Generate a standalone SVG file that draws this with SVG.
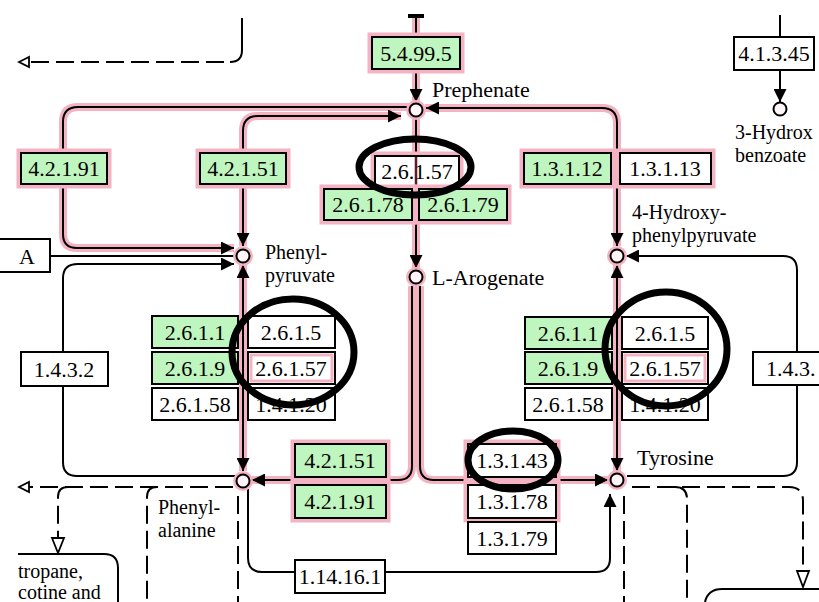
<svg xmlns="http://www.w3.org/2000/svg" width="819" height="602" viewBox="0 0 819 602" font-family="'Liberation Serif', 'DejaVu Serif', 'Times New Roman', serif">
<defs>
<style>
.hl{fill:none;stroke:#f4b3c2;stroke-width:8;stroke-linejoin:round}
.ln{fill:none;stroke:#000;stroke-width:2}
.ds{fill:none;stroke:#000;stroke-width:2;stroke-dasharray:18 7}
.oa{fill:#fff;stroke:#000;stroke-width:1.8}
.halo{fill:none;stroke:#f4b3c2;stroke-width:9}
.g{fill:#bff5bf;stroke:#000;stroke-width:2}
.w{fill:#fff;stroke:#000;stroke-width:2}
.inner{fill:none;stroke:#f4b3c2;stroke-width:3}
.t{font-family:'Liberation Serif','DejaVu Serif','Times New Roman',serif;font-size:22px;fill:#000}
.s{font-size:20px}
.c{text-anchor:middle}
.ring{fill:none;stroke:#000;stroke-width:7}
.cph{fill:#f4b3c2}
.cp{fill:#fff4f7;stroke:#000;stroke-width:2}
</style>
<marker id="arr" viewBox="0 0 10 10" refX="10" refY="5" markerUnits="userSpaceOnUse" markerWidth="13" markerHeight="13" orient="auto-start-reverse">
<path d="M0,0 L10,5 L0,10 z" fill="#000"/>
</marker>
</defs>
<rect width="819" height="602" fill="#fff"/>

<g id="connectors">
<path class="hl" d="M416,15 V102"/>
<path class="hl" d="M409,107 H78 Q63,107 63,122 V234 Q63,248 77,248 H234"/>
<path class="hl" d="M401,116 H258 Q243,116 243,131 V246"/>
<path class="hl" d="M425,108 H602 Q617,108 617,123 V246"/>
<path class="hl" d="M416,118 V268"/>
<path class="hl" d="M243,265 V471"/>
<path class="hl" d="M617,265 V471"/>
<path class="hl" d="M412,286 V466 Q412,480 398,480 H252"/>
<path class="hl" d="M420,286 V466 Q420,480 434,480 H608"/>
<path class="ln" d="M416,15 V102" marker-end="url(#arr)"/>
<line x1="408" y1="16" x2="424" y2="16" stroke="#000" stroke-width="4"/>
<path class="ln" d="M409,107 H78 Q63,107 63,122 V234 Q63,248 77,248 H234" marker-end="url(#arr)"/>
<path class="ln" d="M401,116 H258 Q243,116 243,131 V246" marker-start="url(#arr)" marker-end="url(#arr)"/>
<path class="ln" d="M426,108 H602 Q617,108 617,123 V246" marker-start="url(#arr)" marker-end="url(#arr)"/>
<path class="ln" d="M416,118 V268" marker-end="url(#arr)"/>
<path class="ln" d="M243,265 V471" marker-start="url(#arr)" marker-end="url(#arr)"/>
<path class="ln" d="M617,265 V471" marker-start="url(#arr)" marker-end="url(#arr)"/>
<path class="ln" d="M412,286 V466 Q412,480 398,480 H252" marker-end="url(#arr)"/>
<path class="ln" d="M420,286 V466 Q420,480 434,480 H608" marker-end="url(#arr)"/>
<path class="ln" d="M50,256 H236"/>
<path class="ln" d="M234,264 H78 Q63,264 63,278 V462 Q63,476 77,476 H235" marker-start="url(#arr)"/>
<path class="ln" d="M626,256 H783 Q797,256 797,270 V462 Q797,476 783,476 H627" marker-start="url(#arr)"/>
<path class="ln" d="M248,489 V558 Q248,572 262,572 H596 Q610,572 610,558 V494" marker-end="url(#arr)"/>
<path class="ln" d="M780,15 V102" marker-end="url(#arr)"/>
<path class="ln" d="M242,18 V50 Q242,62 230,62"/>
<path class="ds" d="M224,62 H29"/>
<polygon class="oa" points="19,62 29,57 29,67"/>
<path class="ds" d="M233,487 H29"/>
<polygon class="oa" points="19,487 29,482 29,492"/>
<path class="ds" d="M68,487 Q58,487 58,497 V538"/>
<polygon class="oa" points="58,553 52,538 64,538"/>
<path class="ds" d="M157,487 Q147,487 147,497 V602"/>
<path class="ds" d="M238,496 V602"/>
<path class="ds" d="M632,487 H789 Q803,487 803,501 V571"/>
<polygon class="oa" points="803,587 797,571 809,571"/>
<path class="ds" d="M675,487 Q687,487 687,499 V602"/>
<path class="ds" d="M624,496 V602"/>
<path class="ln" d="M18,554 H104 Q118,554 118,568 V602"/>
<path class="ln" d="M819,589 H722 Q708,589 705,602"/>
</g>

<g id="e5_4_99_5"><rect class="halo" x="372" y="37" width="88" height="32"/><rect class="g" x="372" y="37" width="88" height="32"/><text class="t c" x="416" y="61">5.4.99.5</text></g>
<g id="e4_2_1_91_top"><rect class="halo" x="21" y="153" width="86" height="31"/><rect class="g" x="21" y="153" width="86" height="31"/><text class="t c" x="64" y="176">4.2.1.91</text></g>
<g id="e4_2_1_51_top"><rect class="halo" x="200" y="153" width="86" height="31"/><rect class="g" x="200" y="153" width="86" height="31"/><text class="t c" x="243" y="176">4.2.1.51</text></g>
<g id="e2_6_1_57_top"><rect class="halo" x="375" y="156" width="84" height="30"/><rect class="w" x="375" y="156" width="84" height="30"/><line x1="416" y1="157" x2="416" y2="185" stroke="#f4b3c2" stroke-width="4"/><line x1="416" y1="157" x2="416" y2="185" stroke="#000" stroke-width="1.5"/><text class="t c" x="417" y="179">2.6.1.57</text></g>
<g id="e1_3_1_12"><rect class="halo" x="524" y="153" width="87" height="31"/><rect class="g" x="524" y="153" width="87" height="31"/><text class="t c" x="567" y="176">1.3.1.12</text></g>
<g id="e1_3_1_13"><rect class="halo" x="620" y="153" width="91" height="31"/><rect class="w" x="620" y="153" width="91" height="31"/><text class="t c" x="665" y="176">1.3.1.13</text></g>
<g id="e2_6_1_78"><rect class="halo" x="324" y="189" width="88" height="31"/><rect class="g" x="324" y="189" width="88" height="31"/><text class="t c" x="368" y="212">2.6.1.78</text></g>
<g id="e2_6_1_79"><rect class="halo" x="419" y="189" width="88" height="31"/><rect class="g" x="419" y="189" width="88" height="31"/><text class="t c" x="463" y="212">2.6.1.79</text></g>

<g id="e2_6_1_1_left"><rect class="g" x="152" y="316" width="86" height="32"/><text class="t c" x="195" y="340">2.6.1.1</text></g>
<g id="e2_6_1_5_left"><rect class="w" x="248" y="316" width="87" height="32"/><text class="t c" x="291" y="340">2.6.1.5</text></g>
<g id="e2_6_1_9_left"><rect class="g" x="152" y="352" width="86" height="32"/><text class="t c" x="195" y="376">2.6.1.9</text></g>
<g id="e2_6_1_57_left"><rect class="w" x="248" y="352" width="87" height="32"/><rect class="inner" x="251" y="355" width="81" height="26"/><text class="t c" x="291" y="376">2.6.1.57</text></g>
<g id="e2_6_1_58_left"><rect class="w" x="152" y="388" width="86" height="32"/><text class="t c" x="195" y="412">2.6.1.58</text></g>
<g id="e1_4_1_20_left"><rect class="w" x="248" y="388" width="87" height="32"/><text class="t c" x="291" y="412">1.4.1.20</text></g>

<g id="e2_6_1_1_right"><rect class="g" x="525" y="317" width="87" height="32"/><text class="t c" x="568" y="341">2.6.1.1</text></g>
<g id="e2_6_1_5_right"><rect class="w" x="622" y="317" width="86" height="32"/><text class="t c" x="665" y="341">2.6.1.5</text></g>
<g id="e2_6_1_9_right"><rect class="g" x="525" y="352" width="87" height="32"/><text class="t c" x="568" y="376">2.6.1.9</text></g>
<g id="e2_6_1_57_right"><rect class="w" x="622" y="352" width="86" height="32"/><rect class="inner" x="625" y="355" width="80" height="26"/><text class="t c" x="665" y="376">2.6.1.57</text></g>
<g id="e2_6_1_58_right"><rect class="w" x="525" y="388" width="87" height="32"/><text class="t c" x="568" y="412">2.6.1.58</text></g>
<g id="e1_4_1_20_right"><rect class="w" x="622" y="388" width="86" height="32"/><text class="t c" x="665" y="412">1.4.1.20</text></g>

<g id="e1_4_3_2_left"><rect class="w" x="21" y="352" width="87" height="34"/><text class="t c" x="64" y="377">1.4.3.2</text></g>
<g id="e1_4_3_right"><rect class="w" x="753" y="352" width="90" height="33"/><text class="t" x="766" y="376">1.4.3.</text></g>
<g id="mapA"><rect class="w" x="-3" y="239" width="53" height="33"/><text class="t" x="19" y="264">A</text></g>

<g id="e4_2_1_51_bottom"><rect class="halo" x="295" y="444" width="91" height="33"/><rect class="g" x="295" y="444" width="91" height="33"/><text class="t c" x="340" y="468">4.2.1.51</text></g>
<g id="e4_2_1_91_bottom"><rect class="halo" x="295" y="485" width="91" height="33"/><rect class="g" x="295" y="485" width="91" height="33"/><text class="t c" x="340" y="509">4.2.1.91</text></g>
<g id="e1_3_1_43"><rect class="halo" x="468" y="444" width="88" height="33"/><rect class="w" x="468" y="444" width="88" height="33"/><text class="t c" x="512" y="468">1.3.1.43</text></g>
<g id="e1_3_1_78"><rect class="halo" x="468" y="485" width="88" height="33"/><rect class="w" x="468" y="485" width="88" height="33"/><text class="t c" x="512" y="509">1.3.1.78</text></g>
<g id="e1_3_1_79"><rect class="w" x="468" y="522" width="88" height="32"/><text class="t c" x="512" y="546">1.3.1.79</text></g>
<g id="e1_14_16_1"><rect class="w" x="295" y="560" width="90" height="33"/><text class="t c" x="340" y="584">1.14.16.1</text></g>
<g id="e4_1_3_45"><rect class="w" x="734" y="37" width="80" height="33"/><text class="t c" x="774" y="61">4.1.3.45</text></g>

<g id="prephenate"><circle class="cph" cx="416" cy="110" r="10"/><circle class="cp" cx="416" cy="110" r="6.5"/><text class="t" x="432" y="97">Prephenate</text></g>
<g id="phenylpyruvate"><circle class="cph" cx="243" cy="256" r="10"/><circle class="cp" cx="243" cy="256" r="6.5"/><text class="t s" x="265" y="259">Phenyl-</text><text class="t s" x="265" y="282">pyruvate</text></g>
<g id="l_arogenate"><circle class="cph" cx="416" cy="277" r="10"/><circle class="cp" cx="416" cy="277" r="6.5"/><text class="t" x="432" y="285">L-Arogenate</text></g>
<g id="hydroxyphenylpyruvate"><circle class="cph" cx="617" cy="256" r="10"/><circle class="cp" cx="617" cy="256" r="6.5"/><text class="t s" x="632" y="219">4-Hydroxy-</text><text class="t s" x="632" y="242">phenylpyruvate</text></g>
<g id="phenylalanine"><circle class="cph" cx="243" cy="481" r="10"/><circle class="cp" cx="243" cy="481" r="6.5"/><text class="t s" x="158" y="514">Phenyl-</text><text class="t s" x="158" y="537">alanine</text></g>
<g id="tyrosine"><circle class="cph" cx="617" cy="480" r="10"/><circle class="cp" cx="617" cy="480" r="6.5"/><text class="t" x="637" y="465">Tyrosine</text></g>
<g id="hydroxybenzoate"><circle class="cp" cx="780" cy="109" r="6.5" fill="#fff"/><text class="t s" x="735" y="139">3-Hydrox</text><text class="t s" x="735" y="162">benzoate</text></g>
<g id="tropane_map"><text class="t s" x="18" y="578">tropane,</text><text class="t s" x="18" y="599">cotine and</text></g>

<g id="annotations">
<ellipse class="ring" cx="415" cy="167" rx="56" ry="28"/>
<ellipse class="ring" cx="293" cy="352" rx="61" ry="53"/>
<ellipse class="ring" cx="666" cy="349" rx="61" ry="57"/>
<ellipse class="ring" cx="513" cy="460" rx="45" ry="29"/>
</g>
</svg>
